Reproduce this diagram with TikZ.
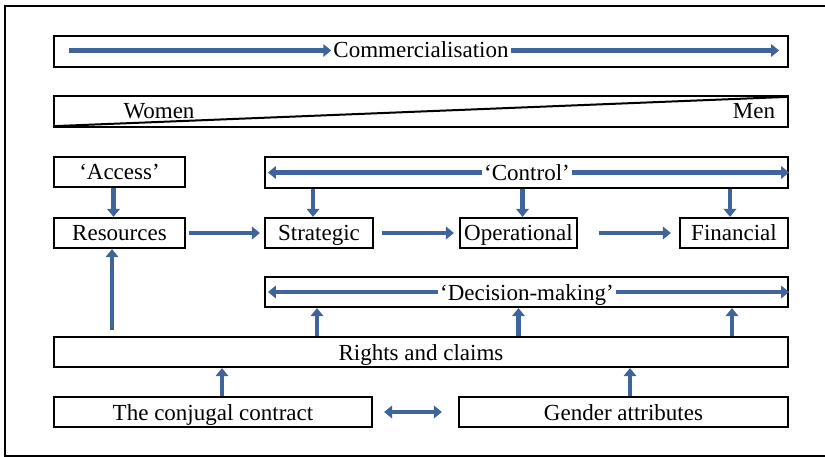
\documentclass[tikz,border=0pt]{standalone}
\usepackage{fontspec}
\setmainfont{Liberation Serif}
\usetikzlibrary{arrows.meta}
\definecolor{arrowblue}{RGB}{62,100,155}
\tikzset{
  box/.style={draw=black, line width=2.2pt, inner sep=0pt, fill=none},
  lbl/.style={inner sep=2pt, text height=18pt, text depth=2pt, font=\rmfamily\fontsize{23}{27}\selectfont},
  flow/.style={draw=arrowblue, line width=4.8pt, -{Triangle[length=8pt,width=12.5pt]}},
  dflow/.style={draw=arrowblue, line width=4.8pt, {Triangle[length=8pt,width=12.5pt]}-{Triangle[length=8pt,width=12.5pt]}},
}
\begin{document}
\begin{tikzpicture}[x=1pt,y=-1pt]
\useasboundingbox (0,0) rectangle (825,457);
% outer frame (open on the right)
\draw[line width=2pt] (825,6) -- (5,6) -- (5,456) -- (825,456);

% Commercialisation
\node[box, minimum width=734pt, minimum height=31pt] (com) at (421,51.5) {};
\node[lbl] (comt) at (421,50) {Commercialisation};
\draw[flow] ([xshift=16pt,yshift=1pt]com.west) -- ([yshift=-0.5pt]comt.west);
\draw[flow] ([yshift=-0.5pt]comt.east) -- ([xshift=-10pt,yshift=1pt]com.east);

% Women / Men
\node[box, minimum width=734pt, minimum height=31pt] (wm) at (421,111.5) {};
\draw[line width=2pt] ([xshift=2pt,yshift=2pt]wm.south west) -- ([xshift=-2pt,yshift=-2pt]wm.north east);
\node[lbl] (women) at (159,111) {Women};
\node[lbl] (men) at (754,111) {Men};

% Access / Control
\node[box, lbl, minimum width=131pt, minimum height=30pt] (acc) at (119.5,172) {‘Access’};
\node[box, minimum width=523pt, minimum height=31pt] (ctl) at (526.5,172.5) {};
\node[lbl] (ctlt) at (527,172.5) {‘Control’};
\draw[flow] (ctlt.west) -- ([xshift=4pt]ctl.west);
\draw[flow] (ctlt.east) -- (ctl.east);

% Second row
\node[box, lbl, minimum width=131pt, minimum height=30pt] (res) at (119.5,233) {Resources};
\node[box, lbl, minimum width=108pt, minimum height=30pt] (str) at (319,233) {Strategic};
\node[box, lbl, minimum width=117pt, minimum height=30pt] (ope) at (518.5,233) {Operational};
\node[box, lbl, minimum width=108pt, minimum height=30pt] (fin) at (734,233) {Financial};

\draw[flow] ([xshift=-6pt]acc.south) -- ([xshift=-6pt]res.north);
\coordinate (c1) at ([xshift=-6pt]str.north);
\coordinate (c2) at ([xshift=4pt]ope.north);
\coordinate (c3) at ([xshift=-4pt]fin.north);
\draw[flow] (c1 |- ctl.south) -- (c1);
\draw[flow] (c2 |- ctl.south) -- (c2);
\draw[flow] (c3 |- ctl.south) -- (c3);

\draw[flow] ([xshift=3pt]res.east) -- ([xshift=-4pt]str.west);
\draw[flow] ([xshift=8pt]str.east) -- ([xshift=-5pt]ope.west);
\draw[flow] ([xshift=21pt]ope.east) -- ([xshift=-8pt]fin.west);

% Decision-making
\node[box, minimum width=523pt, minimum height=30pt] (dm) at (526.5,292) {};
\node[lbl] (dmt) at (527,292) {‘Decision-making’};
\draw[flow] (dmt.west) -- ([xshift=4pt]dm.west);
\draw[flow] (dmt.east) -- (dm.east);

% Rights and claims
\node[box, minimum width=734pt, minimum height=30pt] (rc) at (421,352) {};
\node[lbl] (rct) at (421,352) {Rights and claims};

\coordinate (rtop) at (112,330);
\draw[flow] (rtop) -- (rtop |- res.south);
\coordinate (d1) at ([xshift=-2pt]str.south);
\coordinate (d2) at (ope.south);
\coordinate (d3) at ([xshift=-2pt]fin.south);
\draw[flow] (d1 |- rc.north) -- (d1 |- dm.south);
\draw[flow] (d2 |- rc.north) -- (d2 |- dm.south);
\draw[flow] (d3 |- rc.north) -- (d3 |- dm.south);

% Bottom row
\node[box, lbl, minimum width=318pt, minimum height=30pt] (cc) at (213,412) {The conjugal contract};
\node[box, lbl, minimum width=329pt, minimum height=30pt] (ga) at (623.5,412) {Gender attributes};
\draw[flow] ([xshift=9pt]cc.north) -- ([xshift=9pt]cc.north |- rc.south);
\draw[flow] ([xshift=6.5pt]ga.north) -- ([xshift=6.5pt]ga.north |- rc.south);
\draw[dflow] ([xshift=11pt]cc.east) -- ([xshift=-16pt]ga.west);
\end{tikzpicture}
\end{document}
